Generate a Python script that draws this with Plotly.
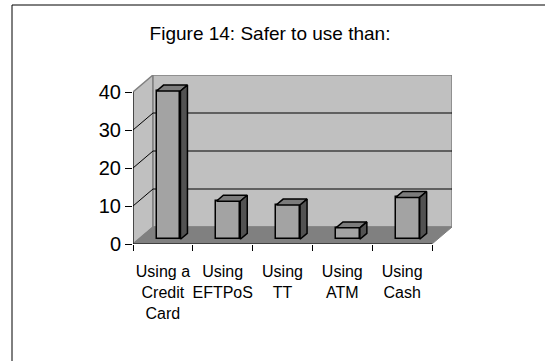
import plotly.graph_objects as go

categories = ["Using a<br>Credit<br>Card", "Using<br>EFTPoS", "Using<br>TT", "Using<br>ATM", "Using<br>Cash"]
values = [39, 10, 9, 3, 11]
y_ticks = [0, 10, 20, 30, 40]

FONT = "Arial, Liberation Sans, sans-serif"
# plot area in pixels
L, R, T, B = 133, 452, 75, 244
W, H = 545, 361
KX = 59.8
DX = (R - L) / KX - 5.0           # depth offset in x units
KY = (B - T - 17) / 40.0
DY = 17 / KY                      # depth offset in y units
YMAX = 40
F0, F1 = 0.28, 0.63               # bar depth range (fraction of floor depth)
BW = 0.40

x0, x1 = -0.5, len(categories) - 0.5

fig = go.Figure()

shapes = []
def poly(pts, fill, line_color, lw=1, layer="below"):
    path = "M " + " L ".join(f"{x},{y}" for x, y in pts) + " Z"
    shapes.append(dict(type="path", path=path, xref="x", yref="y", fillcolor=fill,
                       line=dict(color=line_color, width=lw), layer=layer))

def seg(p, q, color, lw=1, layer="below"):
    shapes.append(dict(type="line", xref="x", yref="y", x0=p[0], y0=p[1], x1=q[0], y1=q[1],
                       line=dict(color=color, width=lw), layer=layer))

# side wall
poly([(x0, 0), (x0, YMAX), (x0 + DX, YMAX + DY), (x0 + DX, DY)], "#C0C0C0", "#808080", 1.5)
# back wall
poly([(x0 + DX, DY), (x1 + DX, DY), (x1 + DX, YMAX + DY), (x0 + DX, YMAX + DY)], "#C0C0C0", "#808080", 1.5)
# gridlines
for v in y_ticks[1:-1]:
    seg((x0, v), (x0 + DX, v + DY), "black", 1)
    seg((x0 + DX, v + DY), (x1 + DX, v + DY), "black", 1)
# floor
poly([(x0, 0), (x1, 0), (x1 + DX, DY), (x0 + DX, DY)], "#808080", "#808080", 1)
# front axis lines
seg((x0, 0), (x0, YMAX), "black", 1)
seg((x0, 0), (x1, 0), "black", 1)

# bar front faces
xs = [i + F0 * DX for i in range(len(values))]
fig.add_trace(go.Bar(x=xs, y=values, base=[F0 * DY] * len(values), width=BW,
                     marker=dict(color="#A3A3A3", line=dict(color="black", width=1.5)),
                     hoverinfo="skip", showlegend=False))

d = F1 - F0
for i, v in enumerate(values):
    xl = xs[i] - BW / 2
    xr = xs[i] + BW / 2
    b = F0 * DY
    t = b + v
    # top face
    fig.add_trace(go.Scatter(x=[xl, xr, xr + d * DX, xl + d * DX, xl],
                             y=[t, t, t + d * DY, t + d * DY, t],
                             mode="lines", fill="toself", fillcolor="#7C7C7C",
                             line=dict(color="black", width=1.5), hoverinfo="skip", showlegend=False))
    # side face
    fig.add_trace(go.Scatter(x=[xr, xr, xr + d * DX, xr + d * DX, xr],
                             y=[b, t, t + d * DY, b + d * DY, b],
                             mode="lines", fill="toself", fillcolor="#525252",
                             line=dict(color="black", width=1.5), hoverinfo="skip", showlegend=False))

# outer chart border (extends past the bottom/right of the view)
def px2paper(px, py):
    return (px - L) / (R - L), (B - py) / (B - T)
bx0, by1 = px2paper(12, 5)
shapes.append(dict(type="rect", xref="paper", yref="paper", x0=bx0, y0=-3, x1=3, y1=by1,
                   line=dict(color="black", width=1), fillcolor="rgba(0,0,0,0)", layer="above"))

fig.update_layout(
    width=W, height=H,
    margin=dict(l=L, r=W - R, t=T, b=H - B),
    paper_bgcolor="white", plot_bgcolor="rgba(0,0,0,0)",
    shapes=shapes,
    title=dict(text="Figure 14: Safer to use than:", x=270 / W, xanchor="center",
               y=1 - 33 / H, yanchor="middle", font=dict(family=FONT, size=19, color="black")),
    xaxis=dict(range=[x0, x1 + DX], tickvals=list(range(len(categories))), ticktext=categories,
               ticks="", showgrid=False, zeroline=False, showline=False,
               tickfont=dict(family=FONT, size=16, color="black"), ticklabelstandoff=16,
               minor=dict(tickvals=[x0 + k for k in range(len(categories) + 1)], ticks="outside",
                          ticklen=6, tickcolor="black", tickwidth=1, showgrid=False)),
    yaxis=dict(range=[0, YMAX + DY], tickvals=y_ticks, ticks="outside", ticklen=7,
               tickcolor="black", showgrid=False, zeroline=False, showline=False,
               tickfont=dict(family=FONT, size=20, color="black"), ticklabelstandoff=0),
    bargap=0,
)

fig.write_html("out.html")
